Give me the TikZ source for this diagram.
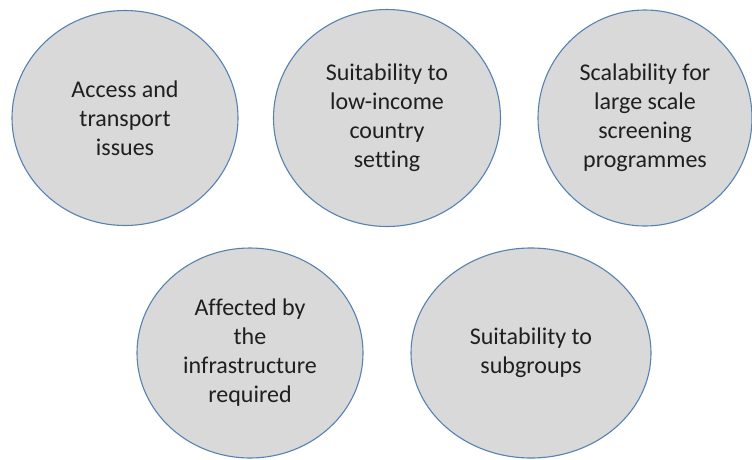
\documentclass[tikz,border=0pt]{standalone}
\usepackage{fontspec}
\setmainfont[Ligatures=NoCommon]{Carlito}
\usepackage{xcolor}
\usepackage{tikz}
\usetikzlibrary{positioning,shapes.geometric}

\definecolor{bubblefill}{HTML}{D9D9D9}
\definecolor{bubbleline}{HTML}{5582B2}

\begin{document}
\begin{tikzpicture}[x=1pt,y=-1pt,
  bubble/.style={ellipse, draw=bubbleline, fill=bubblefill, line width=1.1pt,
    inner sep=0pt, align=center, text=black!88,
    font=\fontsize{24}{29}\selectfont}]
  \useasboundingbox (0,0) rectangle (752,459);

  % Top row
  \node[bubble, minimum width=226pt, minimum height=215pt] (access) at (125,118)
    {Access and\\transport\\issues};
  \node[bubble, minimum width=227pt, minimum height=217pt] (lowincome) at (387,118)
    {Suitability to\\low-income\\country\\setting};
  \node[bubble, minimum width=214pt, minimum height=216pt] (scale) at (645,118)
    {Scalability for\\large scale\\screening\\programmes};

  % Bottom row
  \node[bubble, minimum width=226pt, minimum height=210pt] (infra) at (250,353)
    {Affected by\\the\\infrastructure\\required};
  \node[bubble, minimum width=240pt, minimum height=210pt] (subgroups) at (531,353)
    {Suitability to\\subgroups};
\end{tikzpicture}
\end{document}
